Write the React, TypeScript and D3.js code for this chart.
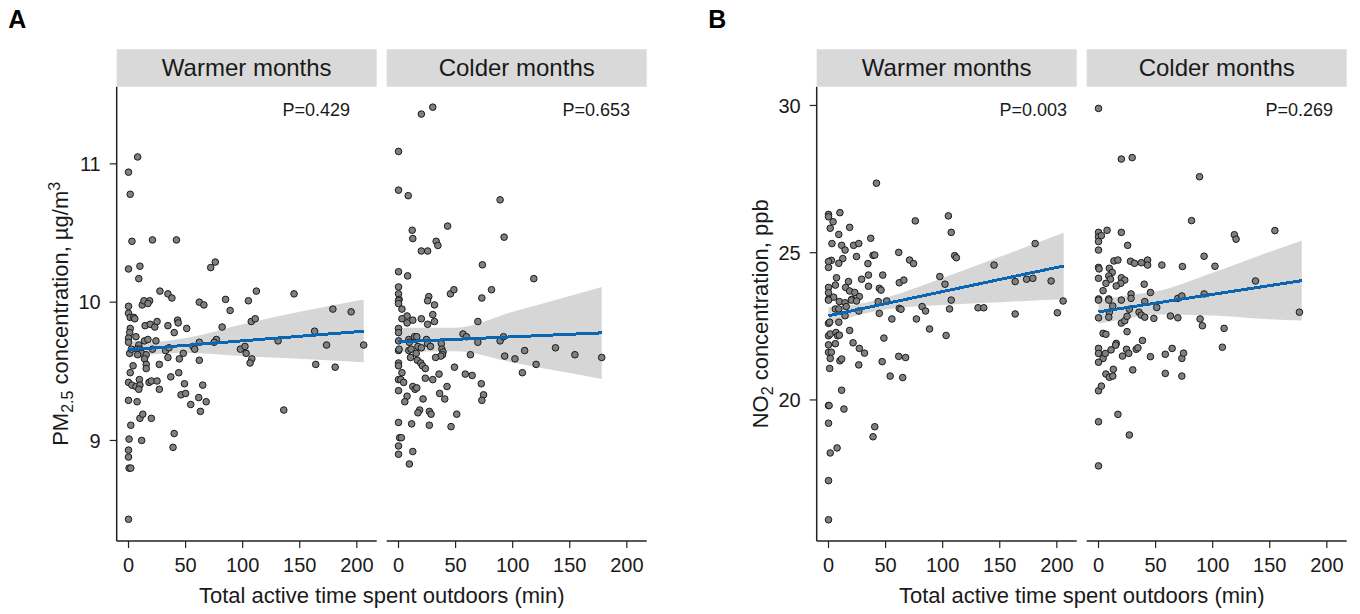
import React from 'react';
import * as d3 from 'd3';

// ---------- DATA ----------
const xTicks = [0, 50, 100, 150, 200];
const pmTicks = [9, 10, 11];
const no2Ticks = [20, 25, 30];
const facetLabels = ['Warmer months', 'Colder months'];

// PM2.5, warmer months: [minutes, concentration]
const pmWarm: [number, number][] = [
  [8,11.05],[0,10.94],[1.5,10.78],[3,10.44],[21,10.45],[42,10.45],[0,10.24],[10,10.26],[9,10.17],[72,10.25],[76,10.29],[27.5,10.08],[34.5,10.06],[38,10.03],[112,10.08],[145,10.06],
  [0,9.97],[12,9.98],[13.5,10.01],[18.5,10.01],[17,9.99],[62,10.0],[66,9.98],[85,10.02],[89,9.94],[105,10.01],[179,9.95],[195,9.93],
  [0,9.92],[1.5,9.89],[4.5,9.89],[5.5,9.88],[14.5,9.83],[19,9.84],[23,9.82],[25,9.86],[34.5,9.83],[43,9.87],[43.5,9.85],[51,9.81],[40,9.78],[82,9.82],[107.5,9.86],[111,9.88],
  [1.5,9.81],[1,9.78],[0,9.74],[0,9.71],[6.5,9.75],[9,9.69],[7.5,9.66],[10,9.66],[14,9.72],[17,9.73],[24,9.72],[21,9.66],[32.5,9.65],[35.5,9.67],
  [1,9.63],[2.5,9.66],[11.5,9.63],[15.5,9.62],[8,9.62],[14,9.59],[15.5,9.55],[15.5,9.52],[27,9.55],[44.5,9.59],[34.5,9.6],[48,9.63],[56.5,9.68],[58,9.66],[62,9.71],[77,9.73],[75,9.71],[98,9.66],[102,9.68],[103,9.63],[108,9.59],[106.5,9.56],[131,9.72],[163,9.79],[173.5,9.69],[164,9.55],[181,9.53],[206,9.69],
  [4,9.54],[1.5,9.49],[0,9.42],[3,9.4],[6.5,9.39],[9.5,9.44],[10,9.4],[9,9.37],[18,9.42],[20,9.43],[25,9.43],[27,9.37],[37,9.46],[44,9.49],[49,9.41],[46,9.33],[50,9.34],[62,9.58],[65,9.4],[61.5,9.31],[68,9.28],[63,9.21],[54.5,9.26],
  [0,9.29],[7.5,9.28],[10,9.16],[12.5,9.19],[20,9.16],[2,9.11],[0.5,9.01],[11.5,9.0],[40,9.05],[39,8.95],[0,8.93],[0,8.88],[0.5,8.8],[2,8.8],[0,8.43],[136,9.22],
];

// PM2.5, colder months
const pmCold: [number, number][] = [
  [30,11.41],[20,11.36],[0,11.09],[0,10.81],[8.5,10.77],[89,10.74],[12,10.52],[12.5,10.46],[43,10.55],[33,10.44],[34.5,10.41],[20,10.37],[25.5,10.37],[92.5,10.47],[0,10.22],[8,10.19],[73.5,10.27],[118.5,10.17],[0,10.11],[0,10.06],[0.5,10.02],[26.5,10.04],[45.5,10.06],[48.5,10.09],[73,10.03],[81.5,10.09],
  [0,10.01],[0,9.99],[25.5,10.01],[31.5,9.98],[3,9.95],[30,9.91],[7.5,9.9],[3,9.88],[12.5,9.87],[7.5,9.85],[20,9.88],[31.5,9.86],[25.5,9.84],[69.5,9.86],
  [0,9.81],[0,9.78],[0,9.72],[0,9.65],[0.5,9.66],[9,9.73],[14,9.75],[16,9.75],[9.5,9.71],[9,9.65],[11,9.66],[17,9.68],[20,9.67],[15.5,9.63],[10.5,9.6],[24.5,9.73],[25.5,9.7],[28,9.68],[37.5,9.7],[38,9.66],[39,9.64],[38.5,9.62],[37,9.61],[32.5,9.6],[56.5,9.77],[59.5,9.75],[69.5,9.71],[63,9.62],[89,9.72],[92,9.75],[93,9.61],[102,9.59],[110.5,9.65],[120.5,9.55],[108.5,9.49],[137.5,9.67],[154.5,9.62],[178,9.6],
  [0,9.56],[0,9.54],[3,9.49],[16.5,9.58],[19.5,9.56],[21,9.54],[23.5,9.52],[35.5,9.48],[30,9.44],[23.5,9.45],[49,9.53],[58.5,9.48],[64.5,9.47],[0,9.44],[2,9.44],[4.5,9.42],[12.5,9.39],[14.5,9.37],[16,9.38],[42.5,9.39],[0,9.36],[7.5,9.32],[5.5,9.28],[21.5,9.3],[36,9.34],[40.5,9.3],[72.5,9.41],[74.5,9.33],[73,9.29],[18.5,9.22],[17,9.2],[27,9.21],[28.5,9.19],[51,9.19],[0,9.13],[11.5,9.12],[27,9.11],[46,9.1],[1,9.02],[2.5,9.02],[0,8.96],[12.5,8.92],[0,8.9],[9.5,8.83],
];

// NO2, warmer months
const no2Warm: [number, number][] = [
  [42,27.36],[0,26.3],[0,26.22],[4,26.05],[10,26.36],[76,26.08],[105,26.25],[107.5,25.69],[1.5,25.83],[9,25.62],[18.5,25.86],[37,25.49],[3,25.31],[11.5,25.25],[14.5,25.09],[22,25.25],[26.5,25.31],[39,24.91],[40.5,24.92],[61.5,25.01],[24.5,24.87],[12.5,24.8],[9,24.64],[2.5,24.74],[0,24.7],[0,24.5],[34.5,24.63],[71,24.75],[74.5,24.63],[110.5,24.9],[112,24.83],[181,25.31],[145,24.58],[97.5,24.19],[102,23.93],[7,24.15],[6,23.9],[0,23.82],[15,23.82],[17.5,24.02],[18.5,23.7],[23,23.65],[27,23.51],[29,24.1],[35,24.24],[35,23.86],[47.5,24.24],[44.5,23.79],[46,23.73],[62,23.98],[66,24.07],[0,23.64],[0,23.42],[4.5,23.49],[20.5,23.42],[163.5,24.02],[173.5,24.1],[179,24.13],[195,24.04],
  [0,23.39],[9.5,23.34],[14.5,23.3],[15.5,23.17],[20,23.39],[24.5,23.36],[43.5,23.34],[51,23.36],[6,23.09],[9,23.09],[62,23.11],[63.5,23.08],[106,23.09],[107.5,23.39],[82,23.17],[85,23.02],[131,23.13],[136,23.13],[205.5,23.36],[26.5,23.02],[14.5,22.86],[44.5,22.94],[55.5,22.75],[77,22.75],[88.5,22.41],[103,22.19],[163.5,22.92],[200.5,22.96],
  [0,22.6],[1,22.64],[9,22.64],[18.5,22.36],[0,22.18],[1.5,22.24],[6.5,22.29],[8,22.18],[9.5,22.2],[6,21.91],[0,21.87],[21.5,21.94],[27,21.75],[31.5,21.59],[0,21.62],[2.5,21.62],[1.5,21.41],[10,21.33],[11.5,21.39],[26.5,21.19],[47,21.3],[48.5,22.1],[61.5,21.48],[67.5,21.44],[54,20.81],[65,20.76],[1,21.07],[11.5,20.33],[0,19.81],[0.5,19.81],[13.5,19.69],[0,19.21],[40.5,19.09],[39,18.75],[1.5,18.2],[7.5,18.37],[0,17.26],[0,15.93],
];

// NO2, colder months
const no2Cold: [number, number][] = [
  [0,29.9],[20,28.18],[29.5,28.23],[88.5,27.58],[81.5,26.09],[0,25.69],[0,25.54],[2.5,25.58],[0,25.38],[7.5,25.76],[20,25.69],[0,25.09],[25.5,25.25],[119,25.61],[120.5,25.46],[154.5,25.75],[92.5,24.88],[102,24.54],[0,24.5],[0.5,24.45],[9.5,24.47],[13.5,24.72],[17,24.75],[28,24.71],[31.5,24.64],[37.5,24.66],[43,24.75],[43,24.58],[55.5,24.58],[73.5,24.53],[12,24.33],[9,24.21],[10.5,24.1],[0,24.13],[6.5,23.96],[20,24.15],[23,24.07],[19.5,23.96],[15.5,23.87],[4,23.71],[40,23.93],[137.5,24.04],[28.5,23.6],[45.5,23.65],[0,23.43],[9,23.43],[28.5,23.45],[69.5,23.45],[73,23.53],[92.5,23.6],
  [0,23.39],[9,23.39],[20,23.39],[12.5,23.19],[40.5,23.34],[51,23.14],[27,23.08],[9.5,22.98],[35.5,22.98],[37.5,22.88],[40.5,22.81],[176,22.98],
  [0,22.79],[9,22.81],[20,22.61],[23,22.69],[25,22.84],[25,22.32],[48.5,22.77],[63,22.85],[69.5,22.79],[89,22.75],[91,22.52],[110,22.43],[108.5,21.79],
  [4,22.26],[6.5,22.23],[15.5,21.92],[15,21.86],[38.5,22.02],[0,21.75],[0,21.58],[4,21.41],[6,21.58],[11,21.7],[21,21.49],[24.5,21.72],[26.5,21.58],[33,21.72],[34.5,21.77],[45.5,21.47],[58.5,21.55],[64.5,21.75],[73,21.41],[74.5,21.59],[0,21.28],[6.5,20.88],[9.5,20.77],[12.5,20.81],[13,21.04],[30,21.02],[58.5,20.9],[73,20.81],[0,20.31],[2.5,20.47],[17,19.51],[0,19.26],[27,18.81],[0,17.76],
];

// Fitted lines (endpoints) and confidence bands
const pmWarmFit = { x: [0, 206], y: [9.655, 9.79] };
const pmWarmBand = { x: [0, 25, 50, 100, 150, 206], lo: [9.6, 9.625, 9.635, 9.61, 9.59, 9.565], hi: [9.72, 9.715, 9.74, 9.84, 9.93, 10.02] };
const pmColdFit = { x: [0, 178], y: [9.713, 9.778] };
const pmColdBand = { x: [0, 50, 100, 150, 178], lo: [9.64, 9.645, 9.564, 9.487, 9.445], hi: [9.815, 9.815, 9.93, 10.045, 10.11] };
const no2WarmFit = { x: [0, 206], y: [22.86, 24.55] };
const no2WarmBand = { x: [0, 25, 50, 100, 150, 206], lo: [22.57, 22.87, 23.07, 23.22, 23.32, 23.42], hi: [23.15, 23.25, 23.47, 24.14, 24.86, 25.68] };
const no2ColdFit = { x: [0, 178], y: [22.99, 24.05] };
const no2ColdBand = { x: [0, 25, 50, 100, 150, 178], lo: [22.6, 22.76, 22.9, 22.87, 22.74, 22.7], hi: [23.39, 23.55, 23.68, 24.32, 25.03, 25.41] };

const pValues = ['P=0.429', 'P=0.653', 'P=0.003', 'P=0.269'];

// ---------- LAYOUT ----------
const FONT = "'Liberation Sans', Arial, Helvetica, sans-serif";
const PANEL_W = 260;
const PANEL_GAP = 10;
const TOP = 86.7;
const BOTTOM = 541;
const STRIP_TOP = 49.3;
const xDomain: [number, number] = [-10.35, 217.4];
const BLUE = '#0a66b3';

type Facet = {
  data: [number, number][];
  fit: { x: number[]; y: number[] };
  band: { x: number[]; lo: number[]; hi: number[] };
  p: string;
  pRight: number;
};

function Figure(props: {
  left: number;
  letter: string;
  yDomain: [number, number];
  yTicks: number[];
  yTitle: React.ReactNode;
  facets: Facet[];
}) {
  const { left, letter, yDomain, yTicks, yTitle, facets } = props;
  const y = d3.scaleLinear().domain(yDomain).range([BOTTOM, TOP]);
  const mid = (TOP + BOTTOM) / 2;
  const totalW = PANEL_W * 2 + PANEL_GAP;
  return (
    <g>
      <text x={left - 108.4} y={28.3} fontSize={25} fontWeight="bold" fontFamily={FONT}>{letter}</text>
      {/* y axis */}
      <line x1={left} x2={left} y1={TOP} y2={BOTTOM} stroke="#222" strokeWidth={1.5} />
      {yTicks.map((t) => (
        <g key={t}>
          <line x1={left - 7} x2={left} y1={y(t)} y2={y(t)} stroke="#222" strokeWidth={1.2} />
          <text x={left - 16} y={y(t)} dy="0.36em" textAnchor="end" fontSize={20} fontFamily={FONT} fill="#1a1a1a">{t}</text>
        </g>
      ))}
      {yTitle}
      {facets.map((f, i) => {
        const px = left + i * (PANEL_W + PANEL_GAP);
        const x = d3.scaleLinear().domain(xDomain).range([px, px + PANEL_W]);
        const bandPts = f.band.x.map((v, k) => ({ x: v, lo: f.band.lo[k], hi: f.band.hi[k] }));
        const area = d3.area<{ x: number; lo: number; hi: number }>()
          .x((d) => x(d.x)).y0((d) => y(d.lo)).y1((d) => y(d.hi))
          .curve(d3.curveMonotoneX);
        const line = d3.line<number>().x((_, k) => x(f.fit.x[k])).y((d) => y(d));
        return (
          <g key={i}>
            <rect x={px} y={STRIP_TOP} width={PANEL_W} height={TOP - STRIP_TOP} fill="#d9d9d9" />
            <text x={px + PANEL_W / 2} y={STRIP_TOP + 26.5} textAnchor="middle" fontSize={24} fontFamily={FONT} fill="#1a1a1a">{facetLabels[i]}</text>
            <path d={area(bandPts) || ''} fill="#d6d6d6" />
            {f.data.map((d, k) => (
              <circle key={k} cx={x(d[0])} cy={y(d[1])} r={3.3} fill="#808080" stroke="#1a1a1a" strokeWidth={1} />
            ))}
            <path d={line(f.fit.y) || ''} stroke={BLUE} strokeWidth={3} fill="none" shapeRendering="crispEdges" />
            <text x={f.pRight} y={116} textAnchor="end" fontSize={18} fontFamily={FONT} fill="#1a1a1a">{f.p}</text>
            {/* x axis */}
            <line x1={px} x2={px + PANEL_W} y1={BOTTOM} y2={BOTTOM} stroke="#222" strokeWidth={1.5} />
            {xTicks.map((t) => (
              <g key={t}>
                <line x1={x(t)} x2={x(t)} y1={BOTTOM} y2={BOTTOM + 7} stroke="#222" strokeWidth={1.2} />
                <text x={x(t)} y={572} textAnchor="middle" fontSize={20} fontFamily={FONT} fill="#1a1a1a">{t}</text>
              </g>
            ))}
          </g>
        );
      })}
      <text x={left + totalW / 2} y={603} textAnchor="middle" fontSize={22} fontFamily={FONT} fill="#1a1a1a">
        Total active time spent outdoors (min)
      </text>
      <g>{mid ? null : null}</g>
    </g>
  );
}

export default function App() {
  const mid = (TOP + BOTTOM) / 2;
  const pmTitle = (
    <text transform={`translate(68, ${mid}) rotate(-90)`} textAnchor="middle" fontSize={22} fontFamily={FONT} fill="#1a1a1a">
      PM<tspan fontSize={16} dy={5}>2.5</tspan><tspan dy={-5}> concentration, µg/m</tspan><tspan fontSize={16} dy={-8}>3</tspan>
    </text>
  );
  const no2Title = (
    <text transform={`translate(768, ${mid}) rotate(-90)`} textAnchor="middle" fontSize={22} fontFamily={FONT} fill="#1a1a1a">
      NO<tspan fontSize={16} dy={5}>2</tspan><tspan dy={-5}> concentration, ppb</tspan>
    </text>
  );
  return (
    <svg width={1360} height={614} style={{ position: 'absolute', left: 0, top: 0, background: '#fff' }}>
      <rect width={1360} height={614} fill="#fff" />
      <Figure
        left={116.7}
        letter="A"
        yDomain={[8.273, 11.558]}
        yTicks={pmTicks}
        yTitle={pmTitle}
        facets={[
          { data: pmWarm, fit: pmWarmFit, band: pmWarmBand, p: pValues[0], pRight: 350 },
          { data: pmCold, fit: pmColdFit, band: pmColdBand, p: pValues[1], pRight: 630 },
        ]}
      />
      <Figure
        left={816.7}
        letter="B"
        yDomain={[15.21, 30.637]}
        yTicks={no2Ticks}
        yTitle={no2Title}
        facets={[
          { data: no2Warm, fit: no2WarmFit, band: no2WarmBand, p: pValues[2], pRight: 1067 },
          { data: no2Cold, fit: no2ColdFit, band: no2ColdBand, p: pValues[3], pRight: 1333 },
        ]}
      />
    </svg>
  );
}
